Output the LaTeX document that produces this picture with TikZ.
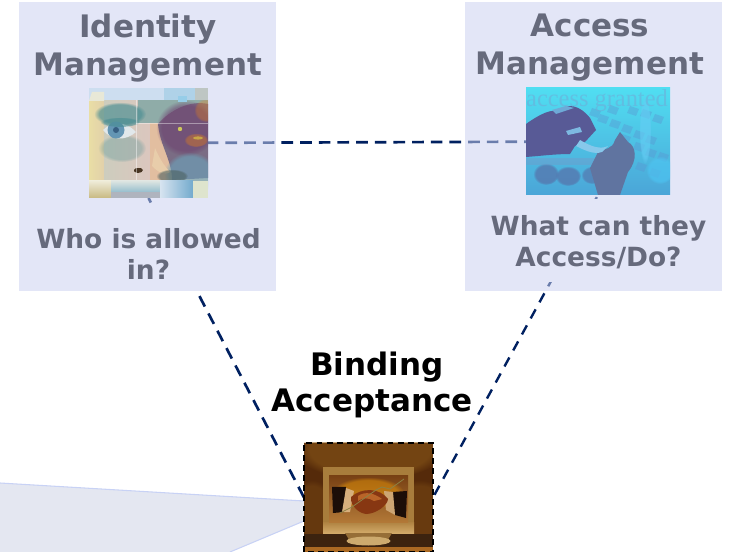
\documentclass[tikz,border=0pt]{standalone}
\usepackage{fontspec}
\usetikzlibrary{fadings}
\setmainfont{DejaVu Sans}
\newfontfamily\imgserif{Liberation Serif}
\definecolor{navyline}{RGB}{0,32,96}
\definecolor{veil}{RGB}{202,208,240}
\definecolor{panel}{RGB}{227,230,247}
\definecolor{greytext}{RGB}{102,106,124}
\definecolor{callfill}{RGB}{228,231,241}
\definecolor{calledge}{RGB}{200,210,245}
\definecolor{dimkey}{RGB}{85,120,175}
\definecolor{browteal}{RGB}{70,140,145}
\definecolor{glowbrown}{RGB}{140,90,25}
\tikzset{
  x=0.75pt,y=-0.75pt,
  picnode/.style={inner sep=0pt,outer sep=0pt,rectangle},
  link/.style={navyline,line width=2pt},
  panelbox/.style={fill=veil,fill opacity=0.53},
  mask/.style={fill=panel},
  headtext/.style={font=\fontsize{23.25pt}{28.5pt}\selectfont\bfseries,align=center,inner sep=0pt,text=greytext},
  subtext/.style={font=\fontsize{19.8pt}{23.5pt}\selectfont\bfseries,align=center,inner sep=0pt,text=greytext},
  bindtext/.style={font=\fontsize{23.25pt}{27pt}\selectfont\bfseries,align=center,inner sep=0pt,text=black},
  handborder/.style={draw=black,line width=1.7pt,dash pattern=on 4.4pt off 3.2pt},
  softy/.style={path fading=circle with fuzzy edge 20 percent},
}
% soft blob: colour, cx, cy, rx, ry, opacity
\newcommand\softblob[6]{\fill[#1,softy,fill opacity=#6] (#2,#3) ellipse (#4 and #5);}
\begin{document}
\begin{tikzpicture}
\useasboundingbox (0,0) rectangle (729,552);
\clip (0,0) rectangle (729,552);
% anchors of the three pictures
\node[picnode,minimum width=89.25pt,minimum height=82.5pt] (face) at (148.5,143) {};
\node[picnode,minimum width=108pt,minimum height=80.25pt] (access) at (598,141.5) {};
\node[picnode,minimum width=96.75pt,minimum height=81.75pt] (hand) at (368.5,497.5) {};
% callout wedge
\fill[callfill] (0,483) -- (304,501) -- (304,521) -- (230,552) -- (0,552) -- cycle;
\draw[calledge,line width=0.8pt] (0,483) -- (304,501);
\draw[calledge,line width=0.8pt] (304,521) -- (230,552);
% connectors
\draw[link,dash pattern=on 8.75pt off 5.25pt,dash phase=12.3pt] (face.center) -- (access.center);
\draw[link,dash pattern=on 8.8pt off 5.85pt,dash phase=5pt] (face.south) -- (hand.west);
\draw[link,line width=1.8pt,dash pattern=on 7.7pt off 6pt,dash phase=11.9pt] (access.south) -- (hand.east);
% panels
\path[panelbox] (19,2) rectangle (276,291);
\path[panelbox] (465,2) rectangle (722,291);
\path[mask] (19,207) rectangle (276,291);
\path[mask] (465,199) rectangle (722,282);
% face picture
\begin{scope}
\clip (89,88) rectangle (208,198);
\fill[fill={rgb,255:red,216;green,198;blue,178}] (89,100) rectangle (208,185);
\shade[left color={rgb,255:red,233;green,222;blue,165},right color={rgb,255:red,226;green,208;blue,170}] (89,100) rectangle (104,181);
\shade[left color={rgb,255:red,205;green,205;blue,190},right color={rgb,255:red,220;green,198;blue,190}] (104,100) rectangle (152,182);
\fill[fill={rgb,255:red,226;green,190;blue,160}] (150,120) rectangle (178,182);
% upper teal band
\fill[fill={rgb,255:red,143;green,172;blue,168}] (138,100) rectangle (208,123);
% dark half of the face
\fill[fill={rgb,255:red,122;green,108;blue,132}] (158,124) .. controls (170,110) and (190,100) .. (208,104) -- (208,178) -- (172,180) .. controls (172,160) and (160,146) .. (158,124) -- cycle;
\softblob{black!30!violet!55!gray}{186}{128}{30}{28}{0.5}
\softblob{orange!60!brown}{206}{110}{12}{12}{0.35}
\softblob{orange!60!brown}{196}{140}{12}{7}{0.4}
\softblob{cyan!45!gray}{190}{174}{26}{22}{0.6}
% nose
\fill[fill={rgb,255:red,232;green,205;blue,170}] (155,148) .. controls (160,160) and (166,168) .. (170,172) .. controls (164,176) and (158,172) .. (152,166) -- cycle;
\softblob{black!60!teal!40!gray}{172}{176}{16}{7}{0.6}
\softblob{black!70!brown}{138}{170}{5}{3}{0.9}
% brow and eye
\softblob{browteal}{120}{114}{26}{12}{0.65}
\softblob{browteal}{122}{148}{24}{14}{0.3}
\fill[fill={rgb,255:red,225;green,232;blue,235}] (103,130) .. controls (112,121) and (126,121) .. (136,132) .. controls (126,141) and (112,141) .. (103,130) -- cycle;
\fill[fill={rgb,255:red,100;green,150;blue,180}] (116,130) circle (8.5);
\fill[fill={rgb,255:red,55;green,95;blue,130}] (116,130) circle (3);
\softblob{browteal}{120}{122}{20}{5}{0.6}
% right eye glints
\fill[fill={rgb,255:red,205;green,200;blue,90}] (180,129) circle (2.2);
\fill[fill={rgb,255:red,200;green,165;blue,70}] (198,138) ellipse (5 and 1.6);
% lines
\draw[white,opacity=0.45,line width=0.6pt] (136,100) -- (136,182);
\draw[white,opacity=0.4,line width=0.6pt] (136,123) -- (208,123);
% top strip
\fill[fill={rgb,255:red,205;green,222;blue,240}] (89,88) rectangle (208,100);
\fill[fill={rgb,255:red,232;green,232;blue,215}] (92,92) -- (104,92) -- (104,101) -- (89,101) -- cycle;
\fill[fill={rgb,255:red,175;green,210;blue,232}] (164,88) rectangle (195,100);
\fill[fill={rgb,255:red,190;green,198;blue,195}] (195,88) rectangle (208,100);
\fill[fill={rgb,255:red,150;green,205;blue,232}] (178,96) rectangle (187,102);
% bottom strip
\fill[fill={rgb,255:red,225;green,225;blue,200}] (89,181) rectangle (208,198);
\shade[top color={rgb,255:red,238;green,235;blue,215},bottom color={rgb,255:red,200;green,185;blue,130}] (89,181) rectangle (112,198);
\shade[top color={rgb,255:red,220;green,228;blue,225},bottom color={rgb,255:red,150;green,190;blue,205}] (111,181) rectangle (160,192);
\fill[fill={rgb,255:red,175;green,180;blue,190}] (111,192) rectangle (160,198);
\shade[left color={rgb,255:red,215;green,228;blue,240},right color={rgb,255:red,115;green,170;blue,205}] (160,181) rectangle (193,198);
\fill[fill={rgb,255:red,222;green,228;blue,205}] (193,181) rectangle (208,198);
\end{scope}
% access picture
\begin{scope}
\clip (526,88) rectangle (670,195);
\shade[top color={rgb,255:red,80;green,222;blue,242},bottom color={rgb,255:red,75;green,165;blue,215}] (526,88) rectangle (670,195);
% keyboard
\foreach \kx/\ky in {600/114,612/119,624/124,636/130,648/135,655/114,643/109,630/106,660/152,648/148,636/142,622/134,652/168,638/162,610/105,592/108}{
  \fill[fill={rgb,255:red,90;green,150;blue,210},fill opacity=0.4] (\kx,\ky) -- ++(9,3) -- ++(-3,7) -- ++(-9,-3) -- cycle;
}
\softblob{cyan!60!white}{645}{130}{6}{34}{0.6}
\softblob{cyan!70!white}{660}{170}{14}{14}{0.6}
% dim keys at the bottom
\softblob{dimkey}{546}{174}{13}{11}{0.8}
\softblob{dimkey}{568}{176}{13}{10}{0.8}
\softblob{dimkey}{592}{175}{11}{9}{0.7}
\fill[fill={rgb,255:red,120;green,150;blue,200},fill opacity=0.4] (526,158) rectangle (600,165);
% hands
\fill[fill={rgb,255:red,88;green,90;blue,150}] (526,124) .. controls (540,114) and (552,108) .. (560,112) .. controls (566,102) and (580,105) .. (590,118) -- (596,130) -- (585,142) -- (575,146) -- (570,154) .. controls (555,154) and (540,156) .. (526,157) -- cycle;
\fill[fill={rgb,255:red,96;green,116;blue,160}] (590,168) -- (598,152) .. controls (605,148) and (612,150) .. (615,140) -- (620,132) -- (628,142) .. controls (636,146) and (638,160) .. (628,172) -- (620,195) -- (598,195) -- cycle;
\fill[fill={rgb,255:red,125;green,185;blue,225}] (566,131) -- (580,127) -- (582,132) -- (568,135) -- cycle;
\fill[fill={rgb,255:red,135;green,200;blue,235}] (580,140) .. controls (590,146) and (600,150) .. (608,146) -- (602,152) .. controls (594,155) and (584,150) .. (576,146) -- cycle;
\fill[fill={rgb,255:red,110;green,170;blue,215}] (552,110) -- (566,106) -- (574,108) -- (556,114) -- cycle;
\node[picnode,font=\imgserif\fontsize{18.3pt}{20pt}\selectfont,text={rgb,255:red,112;green,170;blue,215},text opacity=0.55,anchor=base] (grantedtext) at (597,107) {access granted};
\end{scope}
% handshake picture
\begin{scope}
\clip (304,443) rectangle (433,552);
\fill[fill={rgb,255:red,85;green,42;blue,10}] (304,443) rectangle (433,552);
\softblob{glowbrown}{370}{450}{75}{30}{0.55}
\softblob{glowbrown}{420}{510}{30}{30}{0.35}
\softblob{glowbrown}{312}{510}{22}{30}{0.3}
\fill[fill={rgb,255:red,60;green,35;blue,15}] (304,534) rectangle (433,547);
\fill[fill={rgb,255:red,170;green,105;blue,35}] (304,547) rectangle (433,552);
% monitor
\fill[fill={rgb,255:red,168;green,125;blue,60}] (323,467) rectangle (414,533);
\shade[top color={rgb,255:red,175;green,130;blue,65},bottom color={rgb,255:red,210;green,170;blue,105}] (323,522) rectangle (414,533);
% stand
\fill[fill={rgb,255:red,150;green,110;blue,55}] (345,533) -- (392,533) -- (386,543) -- (351,543) -- cycle;
\fill[fill={rgb,255:red,205;green,170;blue,110}] (368.5,541) ellipse (22 and 4.5);
% screen
\shade[top color={rgb,255:red,120;green,65;blue,20},bottom color={rgb,255:red,178;green,120;blue,55}] (329,476) rectangle (408,522);
\softblob{orange!70!yellow}{368}{493}{36}{16}{0.4}
% sleeves and hands
\fill[fill={rgb,255:red,28;green,14;blue,8}] (332,487) -- (346,487) -- (344,512) -- (333,513) -- cycle;
\fill[fill={rgb,255:red,28;green,14;blue,8}] (392,492) -- (407,491) -- (406,518) -- (395,515) -- cycle;
\fill[fill={rgb,255:red,215;green,175;blue,125}] (346,488) -- (354,491) -- (350,512) -- (342,512) -- cycle;
\fill[fill={rgb,255:red,205;green,165;blue,115}] (384,491) -- (393,492) -- (395,515) -- (386,510) -- cycle;
\fill[fill={rgb,255:red,135;green,55;blue,18}] (351,497) .. controls (362,487) and (380,488) .. (388,499) .. controls (388,505) and (376,514) .. (366,514) .. controls (358,513) and (350,505) .. (351,497) -- cycle;
\fill[fill={rgb,255:red,185;green,100;blue,40}] (358,496) .. controls (365,491) and (374,493) .. (382,499) -- (374,501) .. controls (368,497) and (362,498) .. (358,501) -- cycle;
\draw[draw={rgb,255:red,140;green,130;blue,70},line width=0.6pt] (340,513) -- (352,507) -- (376,490) -- (382,487) -- (390,489) -- (404,479);
\end{scope}
\draw[handborder] (hand.south west) rectangle (hand.north east);
% texts
\node[headtext] (idtitle) at (148,48) {Identity\\Management};
\node[headtext] (actitle) at (590,48) {Access\\Management};
\node[subtext] (who) at (148.5,254) {Who is allowed\\in?};
\node[subtext] (what) at (598.5,242) {What can they\\Access/Do?};
\node[bindtext] (bind) at (372,384.5) {\hspace*{7.5pt}Binding\\Acceptance};
\end{tikzpicture}
\end{document}
